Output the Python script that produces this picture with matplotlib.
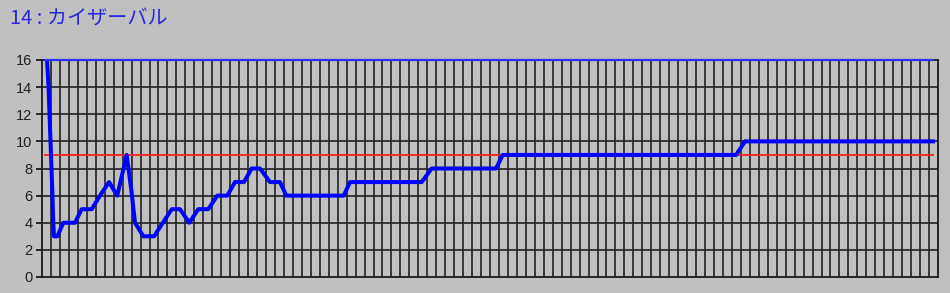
import matplotlib
matplotlib.use("Agg")
import matplotlib.pyplot as plt
import numpy as np

title = "14 : カイザーバル"
# time position (grid units) and value of the line
x_vals = [0.56, 0.73, 0.84, 0.95, 1.06, 1.17, 1.26, 1.34, 1.71, 2.38, 3.68, 4.43,
          5.55, 6.47, 7.48, 8.40, 9.45, 9.99, 10.38, 11.31, 12.50, 14.48, 15.40,
          16.44, 17.44, 18.56, 19.56, 20.68, 21.54, 22.54, 23.40, 24.33, 25.45,
          26.56, 27.27, 33.67, 34.38, 42.38, 43.49, 50.67, 51.42, 77.46, 78.46, 99.67]
y_vals = [16, 14, 12, 10, 8, 6, 4, 3, 3, 4, 4, 5,
          5, 6, 7, 6, 9, 6.3, 4, 3, 3, 5, 5,
          4, 5, 5, 6, 6, 7, 7, 8, 8, 7,
          7, 6, 6, 7, 7, 8, 8, 9, 9, 10, 10]
ref_level = 9
top_level = 16
ref_span = [0.33, 99.41]
y_ticks = [0, 2, 4, 6, 8, 10, 12, 14, 16]
n_cells = 100

bg = "#C0C0C0"
fig = plt.figure(figsize=(9.5, 2.93), dpi=100, facecolor=bg)
ax = fig.add_axes([42/950, 1-277/293, 896/950, 217/293], facecolor=bg)

ax.set_xlim(0, n_cells)
ax.set_ylim(0, 16)

for gx in range(1, n_cells):
    ax.axvline(gx, color="#222222", lw=1.2, zorder=1)
for gy in y_ticks[1:-1]:
    ax.axhline(gy, color="#222222", lw=1.2, zorder=1)

ax.plot(ref_span, [ref_level, ref_level], color="#FF2020", lw=1.3, zorder=3)
ax.plot(ref_span, [top_level, top_level], color="#3030FF", lw=1.6, zorder=5, clip_on=False)
ax.plot(x_vals, y_vals, color="#0000FF", lw=2.9, zorder=4, solid_joinstyle="round",
        solid_capstyle="butt", clip_on=False)

for s in ax.spines.values():
    s.set_color("#1a1a1a")
    s.set_linewidth(1.3)

ax.set_xticks([])
ax.set_yticks(y_ticks)
ax.set_yticklabels([str(v) for v in y_ticks], fontsize=10.5, color="#202020",
                   family="Liberation Sans")
ax.tick_params(axis="y", length=4, width=1.3, color="#1a1a1a", pad=3)

fig.text(10/950, 1-18/293, title, color="#2828E0", fontsize=14.5,
         family=["Noto Sans CJK JP", "DejaVu Sans"], va="center", ha="left")

fig.savefig("out.png", dpi=100, facecolor=bg)
